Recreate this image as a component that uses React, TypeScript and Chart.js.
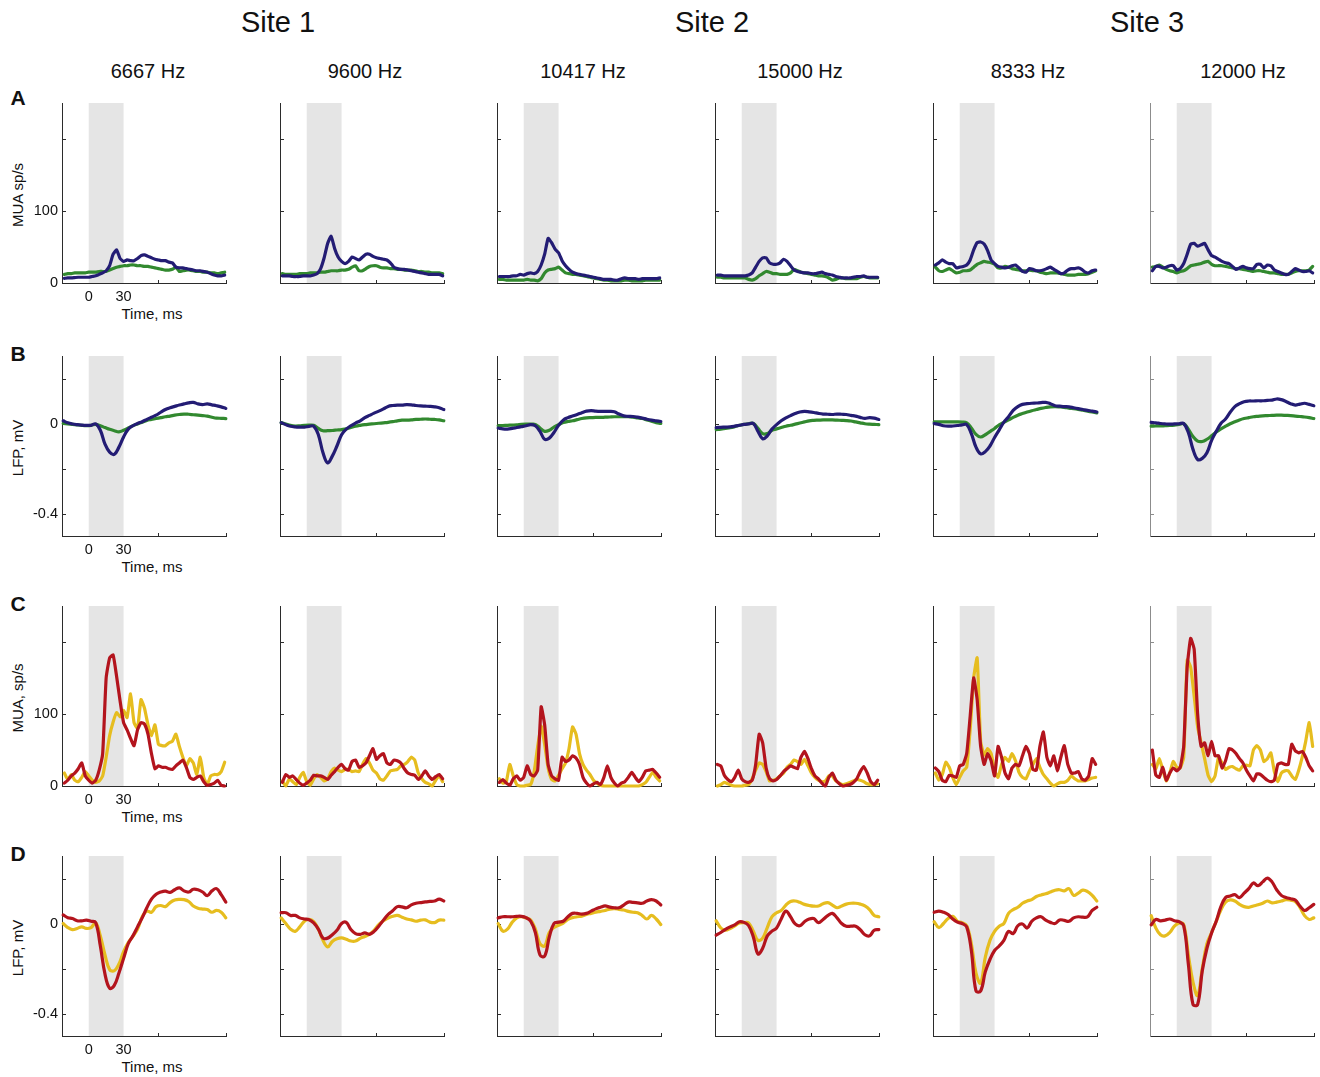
import React, { useEffect, useRef } from "react";
import { Chart, registerables } from "chart.js";

Chart.register(...registerables);

const FONT = "'Liberation Sans', Arial, Helvetica, sans-serif";

// ---- labels ----
const SITE_LABELS = ["Site 1", "Site 2", "Site 3"];
const FREQ_LABELS = ["6667 Hz", "9600 Hz", "10417 Hz", "15000 Hz", "8333 Hz", "12000 Hz"];
const ROW_LETTERS = ["A", "B", "C", "D"];
const Y_TITLES = ["MUA sp/s", "LFP, mV", "MUA, sp/s", "LFP, mV"];
const X_TITLE = "Time, ms";

// ---- axes ----
const STIM_WINDOW = [0, 30];
const X_RANGE = [-23, 119];
const X_TICK_LABELS = [0, 30];
const X_TICK_MARKS = [60];
const MUA_RANGE = [0, 250];
const MUA_TICK_MARKS = [100, 200];
const MUA_TICK_LABELS = [0, 100];
const LFP_RANGE = [-0.5, 0.3];
const LFP_TICK_MARKS = [0.2, 0, -0.2, -0.4];
const LFP_TICK_LABELS = [0, -0.4];

// ---- time bases (ms) ----
const T_MUA = [-21, -18, -15, -12, -9, -6, -3, 0, 3, 6, 9, 12, 15, 18, 21, 24, 27, 30, 33, 36, 39, 42, 45, 48, 51, 54, 57, 60, 63, 66, 69, 72, 75, 78, 81, 84, 87, 90, 93, 96, 99, 102, 105, 108, 111, 114, 117];
const T_LFP = [-22, -18, -14, -10, -6, -2, 2, 6, 10, 14, 18, 22, 26, 30, 34, 38, 42, 46, 50, 54, 58, 62, 66, 70, 74, 78, 82, 86, 90, 94, 98, 102, 106, 110, 114, 118];

// ---- row A: MUA (sp/s), one array per frequency column ----
const MUA_A_BLUE = [
  [6.5, 7, 7, 7.5, 8, 8, 8, 8, 9, 10, 12, 14, 17, 24, 40, 46, 34, 30, 32, 31, 31, 34, 38, 39, 37, 35, 33, 32, 31, 31, 29, 28, 22, 21, 21, 20, 19, 18, 17, 17, 16, 15, 13, 11, 10, 10, 11],
  [10, 10, 10, 9, 9, 9, 10, 10, 10, 11, 13, 20, 35, 55, 65, 48, 36, 30, 27, 30, 36, 34, 32, 36, 40, 40, 37, 35, 34, 33, 32, 28, 22, 20, 19, 19, 18, 17, 16, 15, 14, 13, 12, 12, 12, 12, 10],
  [9, 9, 9, 9, 10, 10, 12, 11, 13, 14, 13, 16, 25, 40, 62, 56, 47, 42, 31, 24, 19, 15, 13, 12, 11, 10, 9, 8, 7, 6, 5, 5, 5, 4, 4, 6, 7, 6, 6, 6, 5, 6, 6, 6, 6, 6, 7],
  [11, 11, 10, 10, 10, 10, 10, 10, 10, 11, 14, 22, 30, 35, 35, 28, 26, 26, 28, 33, 30, 24, 18, 16, 15, 14, 14, 13, 13, 14, 15, 13, 12, 11, 9, 8, 7, 7, 7, 8, 9, 9, 10, 8, 8, 8, 8],
  [25, 28, 32, 29, 27, 27, 21, 22, 23, 25, 32, 46, 56, 57, 54, 45, 32, 27, 23, 22, 21, 22, 24, 25, 21, 16, 15, 20, 19, 17, 17, 18, 20, 22, 19, 16, 13, 14, 18, 20, 20, 21, 19, 15, 14, 17, 18],
  [17, 23, 23, 21, 22, 24, 24, 18, 20, 27, 40, 54, 55, 51, 53, 55, 46, 38, 36, 33, 30, 28, 27, 23, 19, 21, 23, 21, 20, 20, 26, 26, 21, 25, 24, 18, 16, 14, 12, 12, 16, 20, 18, 16, 16, 17, 14],
];
const MUA_A_GREEN = [
  [12, 13, 13, 14, 14, 14, 14, 15, 15, 15, 16, 16, 16, 18, 20, 22, 23, 24, 24, 25, 25, 24, 24, 23, 23, 22, 21, 20, 19, 18, 18, 19, 22, 16, 17, 18, 18, 17, 16, 16, 15, 15, 14, 14, 13, 14, 15],
  [13, 12, 12, 12, 12, 13, 13, 13, 14, 14, 14, 15, 15, 16, 17, 17, 17, 18, 18, 19, 22, 24, 17, 17, 20, 23, 24, 24, 22, 21, 21, 20, 20, 19, 19, 18, 18, 18, 17, 16, 16, 15, 15, 14, 14, 14, 13],
  [5, 5, 4, 4, 4, 4, 4, 4, 5, 4, 4, 3, 6, 14, 18, 19, 20, 22, 18, 14, 13, 12, 12, 11, 10, 9, 8, 7, 6, 5, 4, 4, 3, 3, 3, 3, 4, 4, 3, 3, 3, 3, 4, 4, 4, 4, 4],
  [8, 8, 7, 7, 7, 7, 7, 7, 7, 5, 4, 6, 10, 13, 16, 15, 13, 13, 12, 12, 12, 14, 19, 17, 15, 14, 13, 12, 11, 10, 10, 9, 7, 4, 5, 7, 7, 6, 6, 6, 6, 8, 9, 8, 7, 7, 7],
  [22, 17, 16, 18, 20, 17, 14, 15, 17, 17, 18, 22, 26, 28, 30, 29, 28, 26, 21, 21, 23, 22, 20, 19, 18, 17, 17, 18, 17, 17, 15, 14, 13, 14, 14, 14, 13, 12, 11, 11, 11, 12, 12, 12, 13, 15, 17],
  [22, 23, 25, 22, 19, 17, 16, 14, 16, 17, 20, 24, 25, 26, 27, 29, 30, 26, 24, 24, 24, 23, 22, 21, 20, 20, 19, 18, 17, 16, 17, 17, 16, 15, 14, 14, 13, 12, 12, 12, 14, 16, 17, 17, 17, 18, 23],
];

// ---- row B: LFP (mV) ----
const LFP_B_BLUE = [
  [0.012, 0.003, -0.002, -0.005, -0.007, -0.008, -0.008, -0.002, -0.03, -0.092, -0.127, -0.137, -0.105, -0.06, -0.025, -0.01, 0.0, 0.008, 0.018, 0.028, 0.037, 0.05, 0.062, 0.07, 0.076, 0.082, 0.087, 0.092, 0.094, 0.087, 0.084, 0.087, 0.083, 0.079, 0.074, 0.067],
  [0.004, -0.005, -0.012, -0.015, -0.016, -0.016, -0.013, -0.012, -0.05, -0.13, -0.175, -0.145, -0.1, -0.05, -0.025, -0.01, 0.002, 0.012, 0.026, 0.036, 0.046, 0.055, 0.065, 0.076, 0.08, 0.082, 0.082, 0.084, 0.083, 0.08, 0.078, 0.077, 0.076, 0.074, 0.07, 0.062],
  [-0.02, -0.024, -0.025, -0.022, -0.018, -0.014, -0.01, -0.005, -0.01, -0.035, -0.07, -0.065, -0.04, -0.008, 0.015, 0.026, 0.033, 0.04, 0.048, 0.055, 0.057, 0.055, 0.054, 0.054, 0.054, 0.052, 0.042, 0.034, 0.032, 0.031, 0.028, 0.024, 0.019, 0.015, 0.012, 0.009],
  [-0.018, -0.017, -0.016, -0.015, -0.012, -0.008, -0.004, -0.002, 0.0, -0.035, -0.068, -0.055, -0.025, -0.005, 0.012, 0.025, 0.035, 0.044, 0.051, 0.054, 0.052, 0.049, 0.045, 0.042, 0.041, 0.04, 0.042, 0.041, 0.04, 0.036, 0.033, 0.027, 0.023, 0.026, 0.024, 0.018],
  [0.0, -0.004, -0.01, -0.012, -0.011, -0.009, -0.006, -0.005, -0.045, -0.105, -0.135, -0.125, -0.1, -0.062, -0.028, 0.006, 0.03, 0.058, 0.075, 0.085, 0.088, 0.09, 0.091, 0.093, 0.094, 0.088, 0.079, 0.077, 0.075, 0.074, 0.07, 0.066, 0.062, 0.058, 0.055, 0.051],
  [0.005, 0.003, 0.0, -0.002, -0.003, -0.002, -0.001, 0.0, -0.04, -0.115, -0.16, -0.155, -0.13, -0.075, -0.035, 0.0, 0.02, 0.05, 0.075, 0.088, 0.097, 0.1, 0.1, 0.101, 0.101, 0.103, 0.104, 0.109, 0.106, 0.098, 0.088, 0.082, 0.086, 0.09, 0.085, 0.079],
];
const LFP_B_GREEN = [
  [0.0, -0.002, -0.004, -0.006, -0.008, -0.009, -0.008, -0.004, -0.01, -0.018, -0.026, -0.032, -0.037, -0.03, -0.02, -0.01, -0.002, 0.006, 0.014, 0.018, 0.022, 0.026, 0.03, 0.033, 0.037, 0.04, 0.042, 0.041, 0.039, 0.037, 0.035, 0.033, 0.028, 0.024, 0.023, 0.022],
  [0.004, -0.002, -0.008, -0.011, -0.01, -0.008, -0.007, -0.008, -0.022, -0.032, -0.032, -0.031, -0.029, -0.027, -0.024, -0.018, -0.012, -0.008, -0.005, -0.003, -0.001, 0.001, 0.003, 0.005, 0.008, 0.012, 0.015, 0.015, 0.016, 0.018, 0.019, 0.02, 0.019, 0.018, 0.016, 0.012],
  [-0.01, -0.009, -0.008, -0.007, -0.006, -0.004, -0.003, -0.003, -0.004, -0.02, -0.035, -0.03, -0.016, -0.005, 0.004, 0.009, 0.012, 0.017, 0.022, 0.025, 0.026, 0.027, 0.027, 0.028, 0.029, 0.03, 0.03, 0.03, 0.03, 0.028, 0.025, 0.022, 0.016, 0.01, 0.004, 0.0],
  [-0.027, -0.025, -0.022, -0.019, -0.014, -0.008, -0.004, -0.001, 0.0, -0.022, -0.045, -0.045, -0.03, -0.024, -0.018, -0.012, -0.008, -0.003, 0.002, 0.007, 0.012, 0.014, 0.015, 0.016, 0.016, 0.016, 0.015, 0.014, 0.013, 0.011, 0.007, 0.003, -0.001, -0.003, -0.004, -0.005],
  [0.007, 0.007, 0.007, 0.007, 0.007, 0.007, 0.006, 0.003, -0.02, -0.048, -0.06, -0.05, -0.036, -0.022, -0.006, 0.005, 0.016, 0.027, 0.037, 0.044, 0.051, 0.057, 0.062, 0.067, 0.071, 0.074, 0.075, 0.074, 0.072, 0.068, 0.066, 0.063, 0.059, 0.055, 0.051, 0.047],
  [-0.012, -0.011, -0.011, -0.01, -0.009, -0.007, -0.004, -0.001, -0.025, -0.058, -0.078, -0.08, -0.07, -0.055, -0.038, -0.024, -0.012, -0.001, 0.008, 0.016, 0.022, 0.026, 0.03, 0.032, 0.034, 0.035, 0.036, 0.037, 0.037, 0.036, 0.035, 0.033, 0.031, 0.029, 0.026, 0.022],
];

// ---- row C: MUA (sp/s) ----
const MUA_C_RED = [
  [4, 8, 14, 18, 24, 32, 14, 8, 4, 8, 22, 45, 150, 178, 182, 152, 118, 88, 78, 66, 56, 78, 88, 86, 72, 45, 24, 28, 26, 26, 24, 23, 28, 32, 36, 26, 12, 9, 12, 14, 6, 1, 2, 4, 8, 1, 0],
  [5, 16, 12, 14, 9, 4, 1, 4, 8, 15, 14, 14, 12, 9, 15, 20, 26, 30, 24, 22, 34, 36, 26, 28, 32, 42, 52, 37, 42, 45, 32, 30, 36, 35, 32, 24, 18, 16, 15, 9, 14, 21, 14, 9, 13, 16, 10],
  [5, 9, 4, 1, 10, 14, 8, 12, 28, 16, 14, 22, 110, 85, 30, 14, 10, 8, 40, 34, 36, 42, 39, 30, 12, 4, 0, 3, 5, 2, 12, 28, 12, 4, 0, 4, 6, 12, 19, 12, 6, 12, 21, 22, 23, 18, 12],
  [30, 28, 15, 9, 6, 12, 22, 10, 6, 5, 8, 30, 72, 60, 25, 10, 7, 9, 14, 20, 24, 28, 26, 24, 40, 48, 38, 24, 14, 10, 4, 0, 12, 18, 8, 3, 0, 1, 2, 5, 10, 20, 27, 18, 6, 2, 8],
  [25, 20, 8, 6, 15, 14, 12, 28, 30, 45, 97, 150, 120, 55, 30, 45, 35, 14, 55, 40, 18, 10, 25, 30, 28, 42, 55, 45, 23, 22, 55, 75, 40, 28, 42, 21, 40, 56, 30, 18, 18, 20, 10, 8, 14, 38, 30],
  [50, 15, 12, 26, 8, 18, 25, 21, 26, 55, 165, 205, 190, 100, 55, 60, 42, 62, 42, 42, 25, 35, 52, 50, 45, 38, 32, 22, 14, 7, 17, 16, 12, 8, 6, 8, 30, 32, 30, 30, 58, 49, 46, 48, 40, 28, 21],
];
const MUA_C_YELLOW = [
  [18, 9, 16, 8, 6, 12, 20, 14, 8, 5, 7, 14, 40, 70, 89, 102, 96, 105, 95, 128, 88, 80, 120, 108, 85, 70, 85, 58, 56, 56, 60, 62, 72, 55, 40, 28, 38, 32, 16, 40, 12, 2, 14, 16, 16, 20, 33],
  [7, 0, 10, 6, 2, 12, 19, 6, 1, 10, 16, 12, 7, 10, 20, 25, 22, 20, 23, 23, 20, 21, 20, 30, 38, 32, 22, 18, 10, 8, 14, 21, 22, 23, 28, 30, 34, 40, 36, 18, 10, 5, 3, 0, 8, 14, 6],
  [10, 4, 6, 30, 14, 2, 0, 0, 1, 2, 20, 55, 83, 58, 25, 9, 7, 15, 24, 32, 52, 82, 72, 45, 30, 22, 16, 8, 4, 1, 0, 0, 0, 0, 0, 0, 0, 0, 0, 0, 0, 2, 5, 12, 19, 12, 7],
  [0, 2, 5, 3, 1, 0, 0, 0, 1, 2, 10, 22, 32, 30, 20, 7, 8, 10, 14, 18, 26, 30, 36, 34, 30, 37, 28, 18, 12, 8, 6, 7, 14, 14, 7, 4, 2, 3, 5, 7, 9, 8, 6, 3, 2, 2, 3],
  [18, 8, 16, 33, 26, 12, 2, 12, 21, 26, 79, 150, 178, 62, 43, 52, 45, 22, 12, 30, 40, 34, 45, 35, 19, 12, 10, 21, 30, 38, 26, 16, 10, 4, 0, 3, 5, 5, 8, 14, 10, 7, 7, 7, 9, 11, 12],
  [30, 24, 38, 22, 7, 18, 34, 26, 25, 40, 175, 165, 125, 82, 60, 38, 15, 6, 14, 40, 32, 23, 26, 27, 24, 22, 28, 29, 28, 50, 56, 50, 34, 38, 46, 20, 6, 18, 21, 21, 14, 9, 22, 40, 62, 88, 55],
];

// ---- row D: LFP (mV) ----
const LFP_D_RED = [
  [0.038, 0.026, 0.022, 0.012, 0.012, 0.015, 0.01, 0.004, -0.1, -0.225, -0.288, -0.275, -0.22, -0.155, -0.09, -0.055, -0.015, 0.025, 0.07, 0.108, 0.13, 0.14, 0.144, 0.138, 0.15, 0.158, 0.145, 0.14, 0.152, 0.15, 0.14, 0.124, 0.145, 0.155, 0.128, 0.095],
  [0.048, 0.048, 0.036, 0.036, 0.025, 0.02, 0.017, 0.003, -0.025, -0.065, -0.065, -0.05, -0.03, 0.0, 0.005, -0.027, -0.045, -0.048, -0.042, -0.048, -0.035, -0.012, 0.015, 0.04, 0.057, 0.075, 0.074, 0.07, 0.083, 0.09, 0.093, 0.096, 0.098, 0.1, 0.108, 0.1],
  [0.025, 0.03, 0.03, 0.03, 0.032, 0.032, 0.026, 0.01, -0.04, -0.14, -0.145, -0.06, 0.0, 0.006, 0.01, 0.03, 0.045, 0.045, 0.042, 0.045, 0.055, 0.065, 0.072, 0.078, 0.073, 0.07, 0.07, 0.082, 0.095, 0.094, 0.092, 0.09, 0.1, 0.106, 0.1, 0.082],
  [-0.052, -0.04, -0.026, -0.015, -0.006, 0.008, 0.005, -0.01, -0.06, -0.135, -0.11, -0.055, -0.034, -0.02, 0.02, 0.055, 0.03, -0.002, -0.01, 0.008, 0.02, 0.022, 0.004, 0.018, 0.035, 0.045, 0.025, 0.0, -0.012, -0.012, -0.012, -0.028, -0.05, -0.055, -0.03, -0.027],
  [0.05, 0.055, 0.05, 0.04, 0.02, 0.006, 0.0, -0.015, -0.12, -0.3, -0.3, -0.215, -0.16, -0.12, -0.1, -0.075, -0.035, -0.045, -0.01, -0.002, -0.02, 0.01, 0.025, 0.03, 0.015, 0.005, 0.0, 0.016, 0.014, 0.01, 0.025, 0.03, 0.028, 0.03, 0.058, 0.072],
  [-0.006, 0.018, 0.012, 0.015, 0.02, 0.012, 0.008, -0.01, -0.18, -0.36, -0.36, -0.21, -0.11, -0.042, 0.01, 0.075, 0.115, 0.122, 0.128, 0.115, 0.135, 0.155, 0.18, 0.168, 0.185, 0.202, 0.185, 0.15, 0.125, 0.116, 0.11, 0.104, 0.078, 0.058, 0.07, 0.085],
];
const LFP_D_YELLOW = [
  [0.0, -0.018, -0.027, -0.022, -0.015, -0.022, -0.018, 0.002, -0.055, -0.14, -0.205, -0.21, -0.18, -0.125, -0.085, -0.057, -0.025, 0.03, 0.055, 0.05, 0.075, 0.08, 0.075, 0.093, 0.104, 0.107, 0.106, 0.098, 0.078, 0.068, 0.064, 0.062, 0.05, 0.058, 0.05, 0.025],
  [0.025, 0.0, -0.025, -0.035, -0.015, 0.01, 0.018, 0.008, -0.025, -0.075, -0.104, -0.08, -0.068, -0.064, -0.07, -0.078, -0.078, -0.066, -0.058, -0.048, -0.03, -0.005, 0.012, 0.024, 0.032, 0.036, 0.028, 0.02, 0.016, 0.01, 0.015, 0.016, 0.006, 0.004, 0.015, 0.015],
  [0.0, -0.034, -0.025, 0.005, 0.025, 0.03, 0.025, 0.015, -0.025, -0.09, -0.1, -0.04, -0.018, -0.008, 0.002, 0.018, 0.026, 0.03, 0.033, 0.04, 0.045, 0.05, 0.054, 0.058, 0.064, 0.066, 0.063, 0.06, 0.054, 0.05, 0.048, 0.035, 0.02, 0.036, 0.02, -0.005],
  [0.012, -0.02, -0.03, -0.022, -0.01, 0.002, 0.004, 0.002, -0.035, -0.075, -0.065, -0.018, 0.03, 0.048, 0.058, 0.082, 0.098, 0.1, 0.094, 0.085, 0.08, 0.077, 0.078, 0.088, 0.093, 0.082, 0.07, 0.078, 0.086, 0.09, 0.09, 0.086, 0.078, 0.062, 0.036, 0.03],
  [0.008, -0.018, 0.0, 0.022, 0.032, 0.01, 0.004, -0.01, -0.09, -0.22, -0.265, -0.15, -0.075, -0.035, -0.012, 0.0, 0.045, 0.062, 0.072, 0.09, 0.1, 0.106, 0.12, 0.127, 0.132, 0.14, 0.148, 0.15, 0.145, 0.155, 0.125, 0.135, 0.148, 0.142, 0.125, 0.1],
  [0.035, -0.02, -0.05, -0.055, -0.04, -0.012, 0.002, -0.005, -0.14, -0.26, -0.32, -0.2, -0.09, -0.04, 0.01, 0.06, 0.095, 0.105, 0.1, 0.085, 0.075, 0.072, 0.078, 0.083, 0.09, 0.1, 0.092, 0.095, 0.1, 0.106, 0.104, 0.098, 0.072, 0.035, 0.018, 0.025],
];

// ---- colours ----
const BLUE = "#231c74";
const GREEN = "#32892f";
const RED = "#b3141d";
const YELLOW = "#e6bd1f";
const BAND = "#e5e5e5";

// ---- layout (px) ----
const COL_LEFT = [62, 280, 497, 715, 933, 1150];
const ROW_TOP = [103, 356, 606, 856];
const PLOT_W = 165;
const PLOT_H = 180;
const PAD_L = 70;
const PAD_R = 6;
const PAD_T = 8;
const PAD_B = 40;
const SITE_X = [278, 712, 1147];
const FREQ_X = [148, 365, 583, 800, 1028, 1243];

type Trace = { values: number[]; color: string };
type RowDef = { lfp: boolean; times: number[]; traces: (col: number) => Trace[] };

const ROWS: RowDef[] = [
  { lfp: false, times: T_MUA, traces: (c) => [{ values: MUA_A_BLUE[c], color: BLUE }, { values: MUA_A_GREEN[c], color: GREEN }] },
  { lfp: true, times: T_LFP, traces: (c) => [{ values: LFP_B_BLUE[c], color: BLUE }, { values: LFP_B_GREEN[c], color: GREEN }] },
  { lfp: false, times: T_MUA, traces: (c) => [{ values: MUA_C_RED[c], color: RED }, { values: MUA_C_YELLOW[c], color: YELLOW }] },
  { lfp: true, times: T_LFP, traces: (c) => [{ values: LFP_D_RED[c], color: RED }, { values: LFP_D_YELLOW[c], color: YELLOW }] },
];

function Panel({ col, row }: { col: number; row: number }) {
  const ref = useRef<HTMLCanvasElement | null>(null);
  const def = ROWS[row];

  useEffect(() => {
    const canvas = ref.current;
    if (!canvas) return;
    const first = col === 0;
    const range = def.lfp ? LFP_RANGE : MUA_RANGE;
    const yMarks = def.lfp ? LFP_TICK_MARKS : MUA_TICK_MARKS;
    const yLabels = def.lfp ? LFP_TICK_LABELS : MUA_TICK_LABELS;
    const leftAxisColor = col === 5 ? "#8c8c8c" : "#2b2b2b";

    // stimulus window shading plus MATLAB-style axes with inward ticks
    const frame = {
      id: "panelFrame",
      beforeDatasetsDraw(chart: any) {
        const { ctx, chartArea: a } = chart;
        const xs = chart.scales.x;
        const ys = chart.scales.y;
        ctx.save();
        const x0 = xs.getPixelForValue(STIM_WINDOW[0]);
        const x1 = xs.getPixelForValue(STIM_WINDOW[1]);
        ctx.fillStyle = BAND;
        ctx.fillRect(x0, a.top, x1 - x0, a.bottom - a.top);

        ctx.lineWidth = 1;
        ctx.strokeStyle = "#2b2b2b";
        ctx.beginPath();
        ctx.moveTo(a.left, a.bottom + 0.5);
        ctx.lineTo(a.right, a.bottom + 0.5);
        for (const v of X_TICK_MARKS) {
          const px = Math.round(xs.getPixelForValue(v)) + 0.5;
          ctx.moveTo(px, a.bottom);
          ctx.lineTo(px, a.bottom - 3);
        }
        ctx.moveTo(a.right - 0.5, a.bottom);
        ctx.lineTo(a.right - 0.5, a.bottom - 3);
        ctx.stroke();

        ctx.strokeStyle = leftAxisColor;
        ctx.beginPath();
        ctx.moveTo(a.left + 0.5, a.top);
        ctx.lineTo(a.left + 0.5, a.bottom + 1);
        for (const v of yMarks) {
          const py = Math.round(ys.getPixelForValue(v)) + 0.5;
          ctx.moveTo(a.left, py);
          ctx.lineTo(a.left + 4, py);
        }
        ctx.stroke();
        ctx.restore();
      },
    };

    const tickFont = { family: FONT, size: 14.5 };
    const chart = new Chart(canvas, {
      type: "line",
      data: {
        datasets: def.traces(col).map((tr) => ({
          data: def.times.map((t, i) => ({ x: t, y: tr.values[i] })),
          borderColor: tr.color,
          borderWidth: 3.2,
          pointRadius: 0,
          tension: def.lfp ? 0.4 : 0.15,
          fill: false,
          clip: 6,
          borderJoinStyle: "round",
          borderCapStyle: "round",
        })),
      },
      options: {
        animation: false,
        responsive: false,
        maintainAspectRatio: false,
        devicePixelRatio: 1,
        events: [],
        layout: { padding: { left: 0, top: PAD_T, right: PAD_R, bottom: 0 } },
        plugins: { legend: { display: false }, tooltip: { enabled: false } },
        scales: {
          x: {
            type: "linear",
            min: X_RANGE[0],
            max: X_RANGE[1],
            grid: { display: false, drawTicks: false },
            border: { display: false },
            afterBuildTicks: (s: any) => {
              s.ticks = X_TICK_LABELS.map((value) => ({ value }));
            },
            afterFit: (s: any) => {
              s.height = PAD_B;
              s.paddingLeft = 0;
              s.paddingRight = 0;
            },
            ticks: {
              display: first,
              padding: 5,
              autoSkip: false,
              maxRotation: 0,
              font: tickFont,
              color: "#111",
              callback: (v: any) => String(v),
            },
          },
          y: {
            type: "linear",
            min: range[0],
            max: range[1],
            grid: { display: false, drawTicks: false },
            border: { display: false },
            afterBuildTicks: (s: any) => {
              s.ticks = yLabels.map((value) => ({ value }));
            },
            afterFit: (s: any) => {
              s.width = PAD_L;
              s.paddingTop = 0;
              s.paddingBottom = 0;
            },
            ticks: {
              display: first,
              padding: 4,
              autoSkip: false,
              font: tickFont,
              color: "#111",
              callback: (v: any) => String(v),
            },
          },
        },
      },
      plugins: [frame],
    } as any);
    return () => chart.destroy();
  }, [col, row]);

  const w = PLOT_W + PAD_L + PAD_R;
  const h = PLOT_H + PAD_T + PAD_B;
  return (
    <canvas
      ref={ref}
      width={w}
      height={h}
      style={{ position: "absolute", left: COL_LEFT[col] - PAD_L, top: ROW_TOP[row] - PAD_T, width: w, height: h }}
    />
  );
}

function Text({ x, y, size, children, bold, rotate }: { x: number; y: number; size: number; children: React.ReactNode; bold?: boolean; rotate?: boolean }) {
  return (
    <div
      style={{
        position: "absolute",
        left: x,
        top: y,
        fontSize: size,
        lineHeight: `${size}px`,
        fontWeight: bold ? 700 : 400,
        whiteSpace: "nowrap",
        transform: rotate ? "translate(-50%, -50%) rotate(-90deg)" : "translate(-50%, -50%)",
      }}
    >
      {children}
    </div>
  );
}

export default function App() {
  const yTitleCenters = ROW_TOP.map((t) => t + PLOT_H / 2 + 2);
  const letterCenters = [97, 353, 603, 853];
  return (
    <div
      style={{
        position: "absolute",
        left: 0,
        top: 0,
        width: 1320,
        height: 1077,
        background: "#fff",
        fontFamily: FONT,
        color: "#111",
        overflow: "hidden",
      }}
    >
      {SITE_LABELS.map((s, i) => (
        <Text key={s} x={SITE_X[i]} y={22} size={29}>
          {s}
        </Text>
      ))}
      {FREQ_LABELS.map((f, i) => (
        <Text key={f} x={FREQ_X[i]} y={71} size={20}>
          {f}
        </Text>
      ))}
      {ROW_LETTERS.map((l, r) => (
        <Text key={l} x={18} y={letterCenters[r]} size={21} bold>
          {l}
        </Text>
      ))}
      {Y_TITLES.map((t, r) => (
        <Text key={r} x={17} y={yTitleCenters[r]} size={15} rotate>
          {t}
        </Text>
      ))}
      {ROW_TOP.map((t, r) => (
        <Text key={r} x={152} y={t + PLOT_H + 30} size={15}>
          {X_TITLE}
        </Text>
      ))}
      {ROWS.map((_, r) => COL_LEFT.map((_, c) => <Panel key={`${r}-${c}`} col={c} row={r} />))}
    </div>
  );
}
